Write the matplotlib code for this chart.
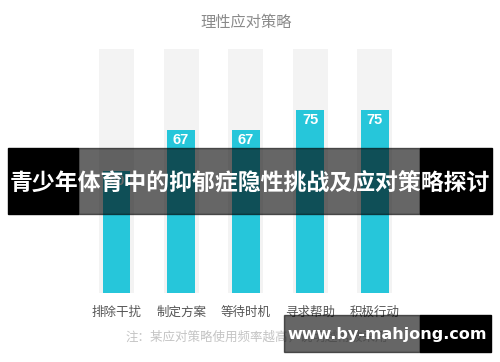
import matplotlib
matplotlib.use("Agg")
import matplotlib.pyplot as plt
from matplotlib.patches import Rectangle

plt.rcParams['font.family'] = ['Noto Sans CJK SC', 'DejaVu Sans']

categories = ["排除干扰", "制定方案", "等待时机", "寻求帮助", "积极行动"]
values = [50, 67, 67, 75, 75]
full = [100, 100, 100, 100, 100]

title = "理性应对策略"
note = "注：某应对策略使用频率越高，说明越常被采用"
banner = "青少年体育中的抑郁症隐性挑战及应对策略探讨"
site = "www.by-mahjong.com"

W, H = 500, 362
fig = plt.figure(figsize=(W / 100, H / 100), dpi=100)

def fx(px):
    return px / W

def fy(py):
    return 1 - py / H

ax = fig.add_axes([fx(84.2), fy(293), 323 / W, 244 / H])
x = range(len(categories))
ax.bar(x, full, width=0.54, color="#f3f3f3", zorder=1)
ax.bar(x, values, width=0.43, color="#26c6da", zorder=2)
for i, v in enumerate(values):
    ax.annotate(str(v), (i, v), xytext=(0, -2.5), textcoords="offset points",
                ha="center", va="top", color="white", fontsize=10.5,
                fontweight="bold", family="Liberation Sans", zorder=3)
ax.set_xlim(-0.5, len(categories) - 0.5)
ax.set_ylim(0, 100)
ax.set_xticks(list(x))
ax.set_xticklabels(categories, fontsize=9, color="#555555", fontweight="medium")
ax.tick_params(axis="x", length=0, pad=9)
ax.set_yticks([])
for s in ax.spines.values():
    s.set_visible(False)

fig.text(fx(246), fy(22), title, ha="center", va="center", fontsize=11, color="#8a8a8a")
fig.text(fx(126), fy(337), note, ha="left", va="center", fontsize=9, color="#c4c4c4")

# banner overlay
fig.add_artist(Rectangle((fx(8), fy(214)), fx(70), 66 / H, transform=fig.transFigure,
                         color="black", zorder=5))
fig.add_artist(Rectangle((fx(420), fy(214)), fx(72), 66 / H, transform=fig.transFigure,
                         color="black", zorder=5))
fig.add_artist(Rectangle((fx(78), fy(214)), fx(342), 66 / H, transform=fig.transFigure,
                         color="black", alpha=0.6, zorder=5))
fig.text(fx(250), fy(184), banner, ha="center", va="center", fontsize=16.5,
         fontweight="bold", color="white", zorder=6)

# watermark
fig.add_artist(Rectangle((fx(284), fy(352)), fx(136), 37 / H, transform=fig.transFigure,
                         color="black", alpha=0.6, zorder=5))
fig.add_artist(Rectangle((fx(420), fy(352)), fx(71), 37 / H, transform=fig.transFigure,
                         color="black", zorder=5))
fig.text(fx(387), fy(335), site, ha="center", va="center", fontsize=11.5,
         fontweight="bold", color="white", family="DejaVu Sans", zorder=6)

fig.savefig("out.png", dpi=100)
